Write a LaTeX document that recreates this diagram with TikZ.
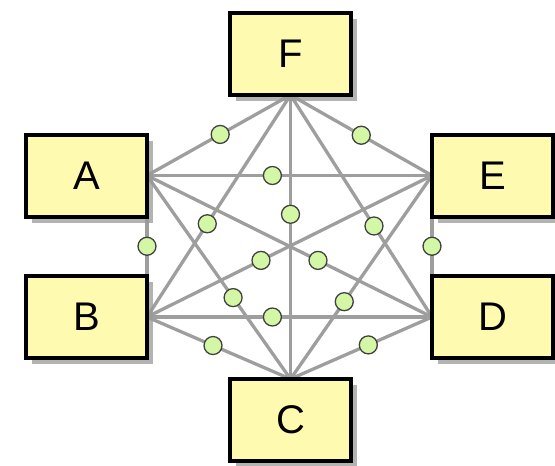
\documentclass[tikz,border=0pt]{standalone}
\usepackage{fontspec}
\setmainfont{Liberation Sans}
\usetikzlibrary{shadows,backgrounds}
\definecolor{boxfill}{RGB}{254,251,176}
\definecolor{dotfill}{RGB}{212,247,166}
\definecolor{linkgray}{RGB}{158,158,158}
\tikzset{
  classbox/.style={draw=black, line width=4pt, fill=boxfill, outer sep=0pt, inner sep=0pt,
    minimum width=121pt, minimum height=82pt, font=\fontsize{40}{40}\selectfont,
    drop shadow={shadow xshift=6pt, shadow yshift=-6pt, fill=black!40, opacity=0.75}},
  link/.style={draw=linkgray, line width=3.3pt},
  dot/.style={circle, draw=black!75, line width=1.3pt, fill=dotfill, minimum size=18pt, inner sep=0pt}
}

\begin{document}
\begin{tikzpicture}[x=1pt, y=-1pt]
            \useasboundingbox (0,0) rectangle (555,466);

            \node[classbox] (F) at (290.5, 54) {F};
            \node[classbox] (A) at (86.5, 175.5) {A};
            \node[classbox] (E) at (492.5, 175.5) {E};
            \node[classbox] (B) at (86.5, 317) {B};
            \node[classbox] (D) at (492.5, 317) {D};
            \node[classbox] (C) at (290.5, 420) {C};

            \begin{scope}[on background layer]
                \foreach \from/\to/\p/\name in {
                    A.east/F.south/0.51/AF, F.south/E.west/0.5/FE, A.east/E.west/0.44/AE,
                    A.south east/B.north east/0.5/AB, E.south west/D.north west/0.5/ED,
                    F.south/C.north/0.42/FC, F.south/B.east/0.58/FB, F.south/D.west/0.59/FD,
                    A.east/C.north/0.6/AC, E.west/C.north/0.62/EC, A.east/D.west/0.6/AD,
                    E.west/B.east/0.6/EB, B.east/D.west/0.44/BD, B.east/C.north/0.46/BC,
                    D.west/C.north/0.45/DC}
                    \draw[link] (\from) -- node[dot, pos=\p] (\name) {} (\to);
            \end{scope}

        \end{tikzpicture}
\end{document}
